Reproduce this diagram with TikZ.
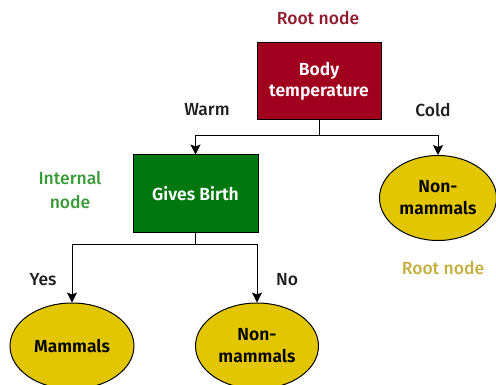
\documentclass[tikz,border=0pt]{standalone}
\usepackage{fontspec}
\setmainfont{Fira Sans}
\newfontfamily\semib{Fira Sans SemiBold}
\newfontfamily\medf{Fira Sans Medium}
\usetikzlibrary{shapes.geometric,arrows.meta}
\definecolor{rootred}{HTML}{A0001E}
\definecolor{rootlbl}{HTML}{8E1B2E}
\definecolor{gbgreen}{HTML}{00780F}
\definecolor{intlbl}{HTML}{3A9A3A}
\definecolor{leafyel}{HTML}{E2C600}
\definecolor{leaflbl}{HTML}{C4B040}
\definecolor{txtdark}{HTML}{1E1E1E}
\tikzset{
  base/.style={font=\fontsize{17.5}{22}\selectfont\medf, align=center, inner sep=0pt},
  boxnode/.style={base, rectangle, draw=black, line width=1pt, text=white, font=\fontsize{17.5}{21}\selectfont\semib},
  leaf/.style={base, ellipse, draw=black, line width=1pt, fill=leafyel, text=black, font=\fontsize{17.5}{22}\selectfont\semib},
  lbl/.style={base, text=txtdark},
  arr/.style={-{Stealth[length=10pt,width=10pt,inset=2pt]}, line width=1pt, black},
}
\begin{document}
\begin{tikzpicture}[x=1pt,y=-1pt]
\useasboundingbox (0,0) rectangle (496,385);
\node[boxnode, fill=rootred, minimum width=124pt, minimum height=77pt] (root) at (319,81.5) {Body\\temperature};
\node[boxnode, fill=gbgreen, minimum width=125pt, minimum height=78pt] (gb) at (195.5,194) {Gives Birth};
\node[leaf, minimum width=117pt, minimum height=85pt] (nm1) at (438,198) {Non-\\mammals};
\node[leaf, minimum width=124pt, minimum height=86pt] (mam) at (72,346) {Mammals};
\node[leaf, minimum width=123pt, minimum height=86pt] (nm2) at (257,346) {Non-\\mammals};
\draw[arr] (root.south) -- ++(0,15) -| (gb.north);
\draw[arr] (root.south) -- ++(0,15) -| (nm1.north);
\draw[arr] (gb.south) -- ++(0,11) -| (mam.north);
\draw[arr] (gb.south) -- ++(0,11) -| (nm2.north);
\node[base, text=rootlbl] (rl) at (318,18) {Root node};
\node[lbl] (warm) at (207,110) {Warm};
\node[lbl] (cold) at (433,110) {Cold};
\node[base, text=intlbl, font=\fontsize{17.5}{24}\selectfont\medf] (il) at (70,190) {Internal\\node};
\node[lbl] (yes) at (43,280) {Yes};
\node[lbl] (no) at (287,280) {No};
\node[base, text=leaflbl] (ll) at (443,268) {Root node};
\end{tikzpicture}
\end{document}
